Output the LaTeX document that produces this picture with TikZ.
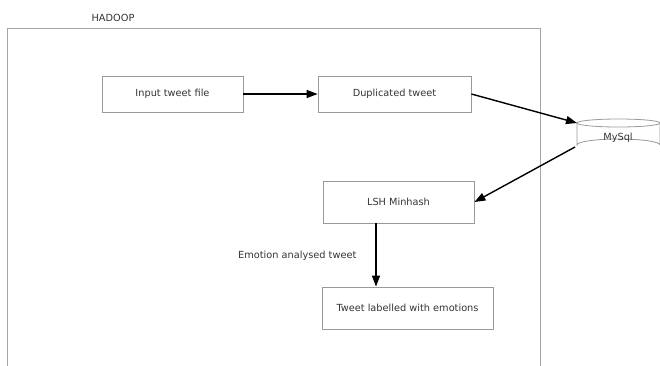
\documentclass[tikz,border=0pt]{standalone}
\usepackage{fontspec}
\setmainfont{DejaVu Sans}
\usetikzlibrary{arrows.meta}
\begin{document}
\begin{tikzpicture}[x=1bp,y=-1bp,
  box/.style={draw=black!40, line width=0.8bp, minimum height=36bp, inner sep=0pt, font=\fontsize{9.8}{11}\selectfont, text=black!80},
  conn/.style={line width=1.4bp, -{Triangle[length=11bp,width=8bp]}},
  lbl/.style={font=\fontsize{9.8}{11}\selectfont, text=black!80, inner sep=0pt}]
\useasboundingbox (0,0) rectangle (660,365);
\begin{scope}
\clip (0,0) rectangle (660,365);
\draw[black!35, line width=0.8bp] (7,366) -- (7,28) -- (540,28) -- (540,366);
\node[lbl] (hadoop) at (113,18) {HADOOP};
\node[box, minimum width=141bp] (input) at (172.5,94) {Input tweet file};
\node[box, minimum width=153bp] (dup) at (394.5,94) {Duplicated tweet};
\node[box, minimum width=151bp, minimum height=42bp] (lsh) at (398.5,202) {LSH Minhash};
\node[box, minimum width=171bp, minimum height=42bp] (lab) at (407.5,308) {Tweet labelled with emotions};
% MySql cylinder
\coordinate (dbtl) at (577,123);
\coordinate (dbbl) at (575,147);
\draw[black!40, line width=0.8bp, fill=white] (577,123) -- (577,145) arc[start angle=180, end angle=360, x radius=41.5, y radius=6] -- (660,123);
\draw[black!40, line width=0.8bp] (618.5,123) ellipse[x radius=41.5, y radius=4];
\node[lbl] (mysql) at (618,138) {MySql};
\node[lbl, anchor=west] (emo) at (238,256) {Emotion analysed tweet};
\draw[conn] (input.east) -- (dup.west);
\draw[conn] (dup.east) -- (dbtl);
\draw[conn] (dbbl) -- (lsh.east);
\draw[conn] (lsh.south -| 376,0) -- (lab.north -| 376,0);
\end{scope}
\end{tikzpicture}
\end{document}
